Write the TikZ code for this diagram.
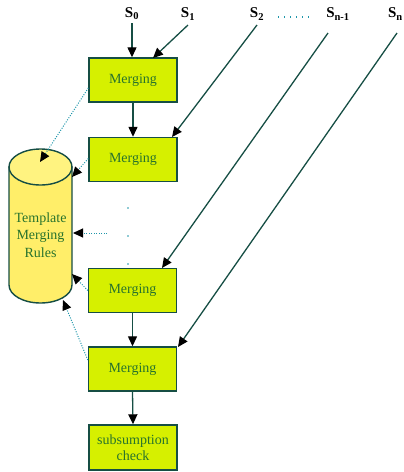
\documentclass[tikz,border=0pt]{standalone}
\usepackage{fontspec}
\setmainfont{Liberation Serif}
\usetikzlibrary{arrows.meta,calc}
\definecolor{boxfill}{RGB}{214,240,0}
\definecolor{edge}{RGB}{22,78,68}
\definecolor{txt}{RGB}{40,115,45}
\definecolor{cylbody}{RGB}{255,238,105}
\definecolor{cyltop}{RGB}{255,243,128}
\definecolor{dotc}{RGB}{30,150,170}
\begin{document}
\begin{tikzpicture}[x=1pt,y=1pt,
  mbox/.style={draw=edge,line width=1.4pt,fill=boxfill,minimum width=88pt,minimum height=44pt,inner sep=0pt,text=txt,font=\fontsize{14}{16}\selectfont,align=center},
  slab/.style={font=\fontsize{15}{17}\selectfont\bfseries,text=black,inner sep=0pt},
  flow/.style={draw=edge,line width=1.3pt,-{Triangle[length=10pt,width=9pt,color=black]}},
  rule/.style={draw=dotc,line width=1pt,dash pattern=on 1pt off 1.5pt,-{Triangle[length=10pt,width=9pt,color=black]}}]
\useasboundingbox (0,0) rectangle (404,-472);
% boxes
\node[mbox] (b1) at (133,-80) {Merging};
\node[mbox] (b2) at (133,-159.5) {Merging};
\node[mbox] (b3) at (132.5,-290.5) {Merging};
\node[mbox] (b4) at (132.5,-369) {Merging};
\node[mbox,minimum height=45pt] (b5) at (133,-447.5) {subsumption\\[0pt]check};
% labels
\node[slab] (s0) at (132,-14) {S\textsubscript{0}};
\node[slab] (s1) at (188,-14) {S\textsubscript{1}};
\node[slab] (s2) at (257,-14) {S\textsubscript{2}};
\node[slab] (sn1) at (338,-14) {S\textsubscript{n-1}};
\node[slab,anchor=east] (sn) at (403,-14) {S\textsubscript{n}};
\coordinate (d1) at (278,-17);
\coordinate (d2) at (314,-17);
\draw[dotc,line width=1.1pt,dash pattern=on 1pt off 5pt] (d1) -- (d2);
% start points
\coordinate (p0) at (132,-23);
\coordinate (p1) at (188,-25);
\coordinate (p2) at (257,-25);
\coordinate (pn1) at (328,-33);
\coordinate (pn) at (397,-33);
\coordinate (t1) at (153,-58);
\coordinate (t2) at (172,-137);
\coordinate (t3) at (162,-268);
\coordinate (t4) at (178,-347);
\draw[flow] (p0) -- (b1.north -| p0);
\draw[flow] (p1) -- (t1);
\draw[flow] (p2) -- (t2);
\draw[flow] (pn1) -- (t3);
\draw[flow] (pn) -- (t4);
\draw[flow] (b1.south) -- (b2.north);
\draw[flow] (b3.south) -- (b4.north);
\draw[flow] (b4.south) -- (b5.north);
% cylinder
\filldraw[fill=cylbody,draw=edge,line width=1.4pt] (9,-167) -- (9,-285) arc[start angle=180,end angle=360,x radius=31.5,y radius=18] -- (72,-167) -- cycle;
\filldraw[fill=cyltop,draw=edge,line width=1.4pt] (40.5,-167) ellipse[x radius=31.5,y radius=18];
\node[text=txt,font=\fontsize{14}{17.5}\selectfont,align=center] (rules) at (40.5,-235) {Template\\Merging\\Rules};
% dots
\coordinate (v1) at (128,-208);
\coordinate (v2) at (128,-236);
\coordinate (v3) at (128,-264);
\foreach \v in {v1,v2,v3} \fill[dotc] (\v) circle (0.9);
% rule arrows
\coordinate (r1) at (40,-162);
\coordinate (r2) at (72,-177);
\coordinate (r3) at (73,-233);
\coordinate (r4) at (72,-274);
\coordinate (r5) at (63,-300);
\coordinate (q3) at (107,-233);
\draw[rule] ($(b1.west)+(0,-8)$) -- (r1);
\draw[rule] ($(b2.west)+(0,1)$) -- (r2);
\draw[rule] (q3) -- (r3);
\draw[rule] ($(b3.west)+(0,0)$) -- (r4);
\draw[rule] ($(b4.west)+(0,9)$) -- (r5);
\end{tikzpicture}
\end{document}
